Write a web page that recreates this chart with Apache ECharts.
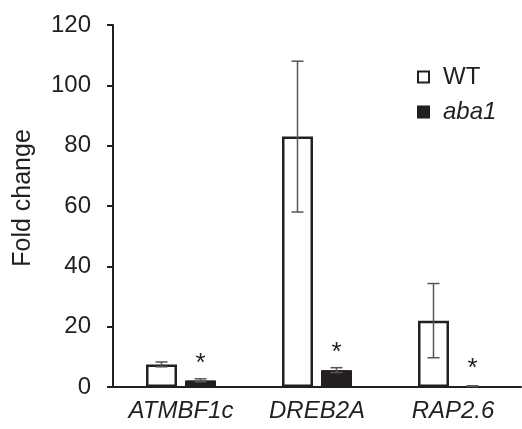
<!DOCTYPE html>
<html>
<head>
<meta charset="utf-8">
<script src="https://cdn.jsdelivr.net/npm/echarts@6/dist/echarts.min.js"></script>
<style>
  html, body { margin: 0; padding: 0; background: #fff; }
  #chart { width: 522px; height: 429px; }
</style>
</head>
<body>
<div id="chart"></div>
<script>
const genes = ['ATMBF1c', 'DREB2A', 'RAP2.6']
const wtValues = [7.5, 83, 22]
const wtErrors = [0.8, 25, 12.3]
const abaValues = [2.2, 5.6, 0.3]
const abaErrors = [0.5, 0.8, 0.1]
const yTicks = [0, 20, 40, 60, 80, 100, 120]

const FONT = 'Liberation Sans, Arial, sans-serif'
const INK = '#231f20'
const BAR_W = 31
const GAP = 8

// error bar custom series, side = -1 for WT, +1 for aba1
function errorSeries(name, values, errors, side, color) {
  return {
    name: name + '_err',
    type: 'custom',
    z: 5,
    data: values.map((v, i) => [i, v, errors[i]]),
    renderItem: function (params, api) {
      const i = api.value(0)
      const v = api.value(1)
      const e = api.value(2)
      const top = api.coord([i, v + e])
      const bot = api.coord([i, Math.max(v - e, 0)])
      const x = top[0] + side * (BAR_W + GAP) / 2
      const cap = 6
      const style = { stroke: color, lineWidth: 1.5 }
      return {
        type: 'group',
        children: [
          { type: 'line', shape: { x1: x, y1: top[1], x2: x, y2: bot[1] }, style: style },
          { type: 'line', shape: { x1: x - cap, y1: top[1], x2: x + cap, y2: top[1] }, style: style },
          { type: 'line', shape: { x1: x - cap, y1: bot[1], x2: x + cap, y2: bot[1] }, style: style }
        ]
      }
    }
  }
}

const chart = echarts.init(document.getElementById('chart'))
chart.setOption({
  animation: false,
  backgroundColor: '#fff',
  grid: { left: 113, right: 1, top: 25, bottom: 42 },
  graphic: [
    {
      type: 'text',
      x: 23,
      y: 198,
      rotation: Math.PI / 2,
      style: {
        text: 'Fold change',
        fontFamily: FONT,
        fontSize: 25,
        fill: INK,
        align: 'center',
        verticalAlign: 'middle'
      }
    }
  ],
  legend: {
    data: ['WT', 'aba1'],
    orient: 'vertical',
    left: 412,
    top: 60,
    itemWidth: 11,
    itemHeight: 11,
    itemGap: 11,
    icon: 'rect',
    formatter: function (n) { return n === 'aba1' ? '{i|aba1}' : n },
    textStyle: {
      fontFamily: FONT, fontSize: 24, color: INK, padding: [0, 0, 0, 9],
      rich: { i: { fontFamily: FONT, fontSize: 24, fontStyle: 'italic', color: INK } }
    }
  },
  xAxis: {
    type: 'category',
    data: genes,
    axisLine: { lineStyle: { color: INK, width: 2 } },
    axisTick: { show: false },
    axisLabel: {
      interval: 0,
      hideOverlap: false,
      fontFamily: FONT, fontSize: 24, fontStyle: 'italic', color: INK, margin: 12
    }
  },
  yAxis: {
    type: 'value',
    min: 0,
    max: 120,
    interval: 20,
    axisLine: { show: true, lineStyle: { color: INK, width: 2 } },
    axisTick: { show: true, length: 6, lineStyle: { color: INK, width: 2 } },
    splitLine: { show: false },
    axisLabel: {
      fontFamily: FONT, fontSize: 24, color: INK, margin: 22,
      formatter: function (v) { return yTicks.includes(v) ? String(v) : '' }
    }
  },
  series: [
    {
      name: 'WT',
      type: 'bar',
      data: wtValues,
      barWidth: BAR_W,
      barGap: (GAP / BAR_W * 100) + '%',
      itemStyle: { color: '#fff', borderColor: INK, borderWidth: 2.5 }
    },
    {
      name: 'aba1',
      type: 'bar',
      data: abaValues,
      barWidth: BAR_W,
      itemStyle: { color: INK, borderColor: INK, borderWidth: 1 },
      label: {
        show: true,
        position: 'top',
        distance: 4,
        formatter: '*',
        fontFamily: FONT,
        fontSize: 26,
        color: INK
      }
    },
    errorSeries('WT', wtValues, wtErrors, -1, '#555'),
    errorSeries('aba1', abaValues, abaErrors, 1, '#555')
  ]
})
</script>
</body>
</html>
